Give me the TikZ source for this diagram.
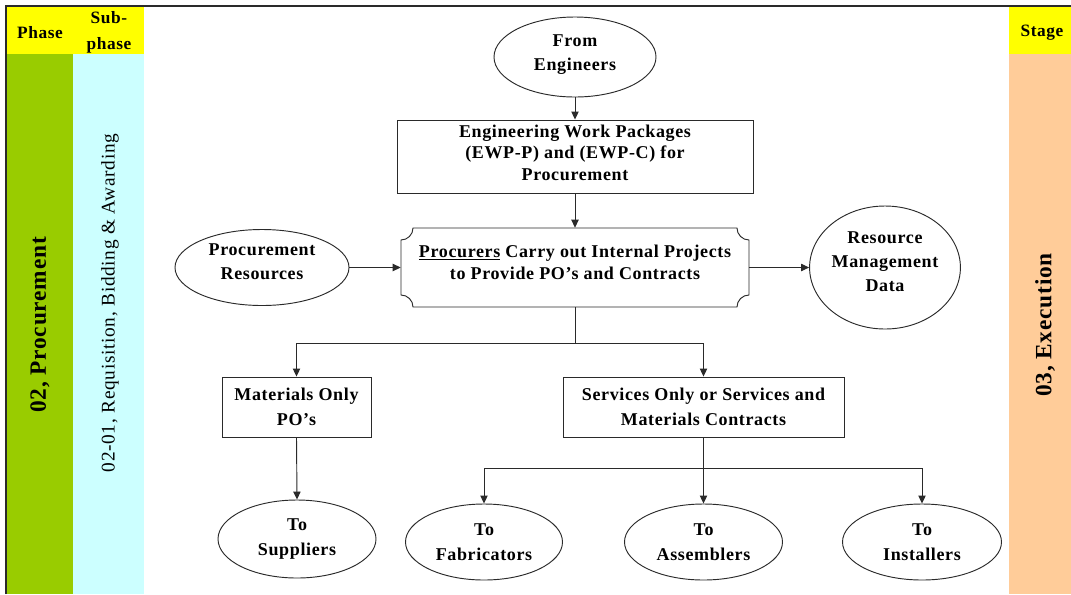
\documentclass[tikz,border=0pt]{standalone}
\usepackage{fontspec}
\setmainfont{Liberation Serif}[LetterSpace=3.5]
\usetikzlibrary{shapes.geometric,arrows.meta}

\definecolor{hdryellow}{HTML}{FFFF00}
\definecolor{phasegreen}{HTML}{99CC00}
\definecolor{subcyan}{HTML}{CCFFFF}
\definecolor{stagepeach}{HTML}{FFCC99}
\definecolor{inkline}{HTML}{2A2A2A}

\newcommand\flowfont{\fontsize{13.5}{18}\selectfont\bfseries}
\newcommand\tightfont{\fontsize{13.5}{16.2}\selectfont\bfseries}
\newcommand\loosefont{\fontsize{13.5}{19}\selectfont\bfseries}

\tikzset{
  pbox/.style={draw=inkline, line width=0.7pt, rectangle, inner sep=0pt,
    align=center, font=\flowfont},
  poval/.style={draw=inkline, line width=0.7pt, ellipse, inner sep=0pt,
    align=center, font=\flowfont},
  flowarrow/.style={draw=inkline, line width=0.7pt,
    -{Triangle[length=6pt,width=5.5pt]}},
  flowline/.style={draw=inkline, line width=0.7pt},
  colhead/.style={font=\fontsize{13}{19.5}\selectfont\bfseries, align=center},
  sz/.style 2 args={minimum width={#1*0.75pt}, minimum height={#2*0.75pt}},
}

\begin{document}
\begin{tikzpicture}[x=0.75pt,y=-0.75pt]
\useasboundingbox (0,0) rectangle (1071,594);
\fill[white] (0,0) rectangle (1071,594);

% side bands
\fill[hdryellow] (7,7) rectangle (144,54);
\fill[phasegreen] (7,54) rectangle (73,594);
\fill[subcyan] (73,54) rectangle (144,594);
\fill[hdryellow] (1009,7) rectangle (1071,54);
\fill[stagepeach] (1009,54) rectangle (1071,594);

% outer frame (top and left edges)
\draw[inkline, line width=1.2pt] (6,594) -- (6,6) -- (1071,6);

\node[colhead] (phasehd) at (40,33) {Phase};
\node[colhead] (subhd) at (109,32) {Sub-\\phase};
\node[colhead] (stagehd) at (1042,33) {Stage};

\node[rotate=90, font=\fontsize{17.5}{20}\selectfont\bfseries] (phase) at (40,325) {02, Procurement};
\node[rotate=90, font=\fontsize{14.5}{17}\selectfont] (subphase) at (110,303) {02-01, Requisition, Bidding \& Awarding};
\node[rotate=90, font=\fontsize{17.5}{20}\selectfont\bfseries] (stage) at (1045,325) {03, Execution};

% flow nodes
\node[poval, sz={162}{80}, text depth=6pt] (eng) at (575,57) {From\\Engineers};
\node[pbox, sz={356}{73}, font=\tightfont, text depth=6pt] (ewp) at (575,156.5)
  {Engineering Work Packages\\(EWP-P) and (EWP-C) for\\Procurement};

\node[inner sep=0pt, sz={348}{79}, align=center, font=\tightfont, text depth=8pt]
  (proc) at (575,267.5) {\underline{Procurers} Carry out Internal Projects\\to Provide PO's and Contracts};
% plaque outline with concave corners
\draw[inkline, line width=0.7pt]
  (413,228) -- (737,228)
  .. controls (737,234.6) and (742.4,240) .. (749,240)
  -- (749,295)
  .. controls (742.4,295) and (737,300.4) .. (737,307)
  -- (413,307)
  .. controls (413,300.4) and (407.6,295) .. (401,295)
  -- (401,240)
  .. controls (407.6,240) and (413,234.6) .. (413,228) -- cycle;

\node[poval, sz={174}{76}, text depth=9pt] (res) at (262,267.5) {Procurement\\Resources};
\node[poval, sz={150}{123}, text depth=9pt] (rmd) at (885,267.5) {Resource\\Management\\Data};

\node[pbox, sz={149}{60}, font=\loosefont] (mat) at (296.5,407) {Materials Only\\PO's};
\node[pbox, sz={281}{60}, font=\loosefont] (svc) at (703.5,407)
  {Services Only or Services and\\Materials Contracts};

\node[poval, sz={158}{78}, font=\loosefont] (sup) at (297,539) {To\\Suppliers};
\node[poval, sz={157}{76}, font=\loosefont] (fab) at (484,542) {To\\Fabricators};
\node[poval, sz={158}{76}, font=\loosefont] (asm) at (703.5,542) {To\\Assemblers};
\node[poval, sz={159}{76}, font=\loosefont] (ins) at (922,542) {To\\Installers};

% connectors
\draw[flowarrow] (eng) -- (ewp);
\draw[flowarrow] (ewp.south) -- (proc.north);
\draw[flowarrow] (res.east) -- (proc.west);
\draw[flowarrow] (proc.east) -- (rmd.west);

\draw[flowline] (proc.south) -- ++(0,36) coordinate (split1);
\draw[flowarrow] (split1) -| (mat.north);
\draw[flowarrow] (split1) -| (svc.north);

\draw[flowarrow] (mat.south) -- (sup.north);

\draw[flowline] (svc.south) -- ++(0,31) coordinate (split2);
\draw[flowarrow] (split2) -| (fab.north);
\draw[flowarrow] (split2) -- (asm.north);
\draw[flowarrow] (split2) -| (ins.north);
\end{tikzpicture}
\end{document}
